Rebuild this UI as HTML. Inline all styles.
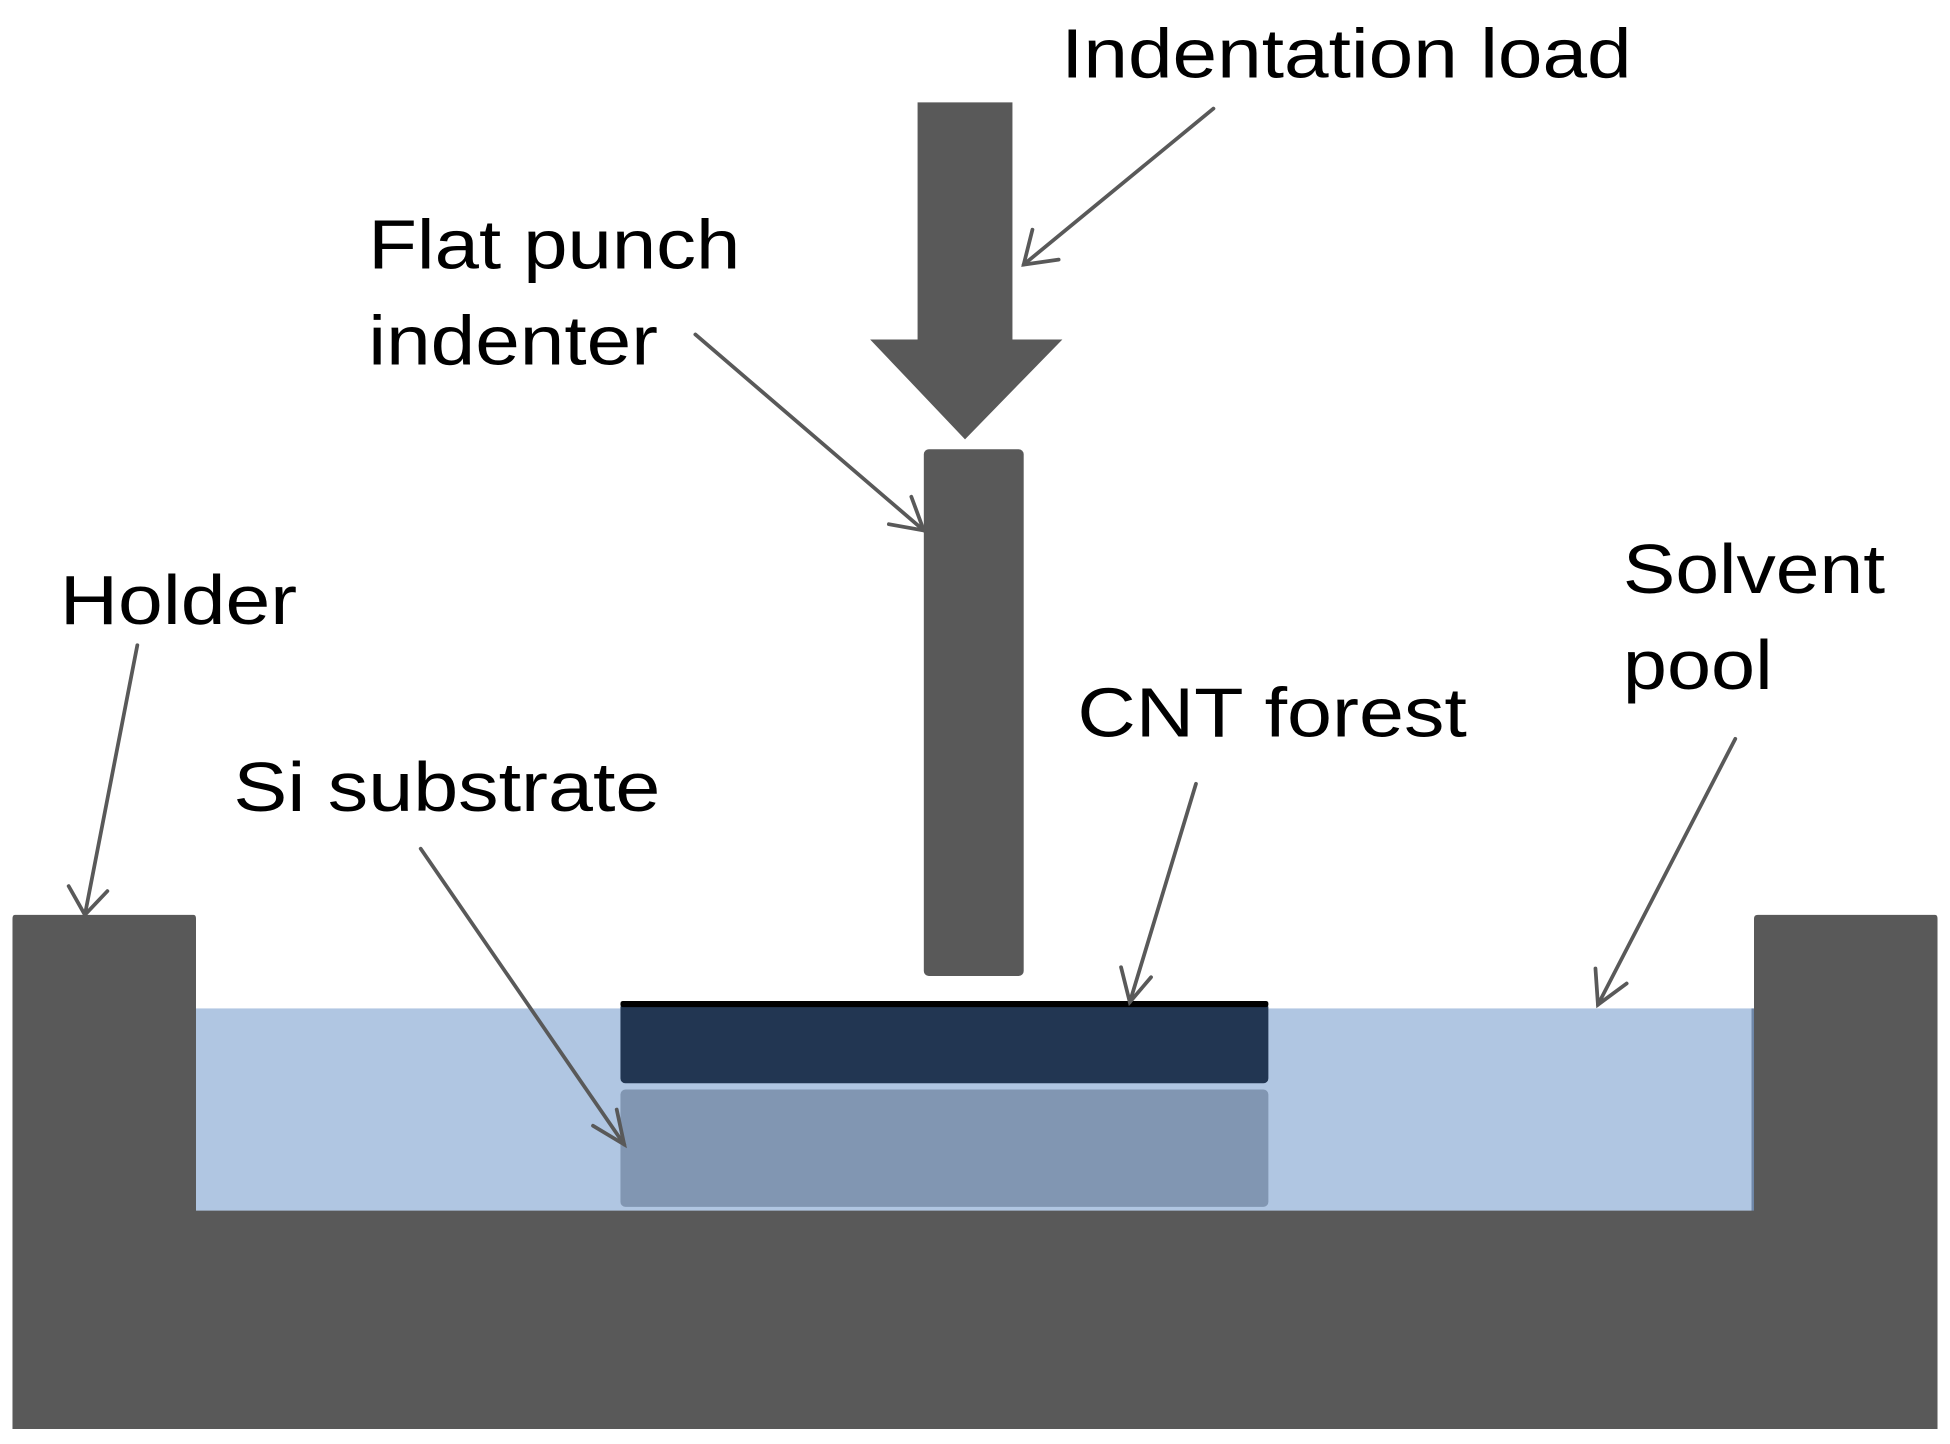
<!DOCTYPE html>
<html><head><meta charset="utf-8"><style>html,body{margin:0;padding:0;background:#fff;}svg{display:block;}</style></head>
<body>
<svg width="1950" height="1444" viewBox="0 0 1562 1157" preserveAspectRatio="none" xmlns="http://www.w3.org/2000/svg">
<rect x="0" y="0" width="1562" height="1157" fill="#fff"/>
<!-- liquid -->
<rect x="157" y="808" width="1250" height="164" fill="#b0c6e2"/>
<rect x="1403" y="808" width="4" height="164" fill="#6f87a8"/>
<!-- holder -->
<path d="M12 733 H155 Q157 733 157 736 V970 H1405 V736 Q1405 733 1408 733 H1550 Q1552 733 1552 736 V1145 H10 V736 Q10 733 12 733 Z" fill="#595959"/>
<!-- Si substrate -->
<rect x="497" y="873" width="519" height="94" rx="4" fill="#8196b2"/>
<!-- CNT forest -->
<rect x="497" y="803" width="519" height="65" rx="4" fill="#223652"/>
<rect x="497" y="802" width="519" height="5" rx="2" fill="#000"/>
<!-- punch -->
<rect x="740" y="360" width="80" height="422" rx="4" fill="#595959"/>
<!-- big arrow -->
<path d="M735 82 H811 V272 H851 L773 352 L697 272 H735 Z" fill="#595959"/>
<!-- leader lines -->
<g stroke="#595959" stroke-width="3" fill="none" stroke-linecap="round">
<line x1="972" y1="87" x2="820" y2="212"/><path d="M827 184 L820 212 L848 208"/>
<line x1="557" y1="268" x2="740" y2="425"/><path d="M730 398 L740 425 L712 420"/>
<line x1="110" y1="517" x2="68" y2="733"/><path d="M55 710 L68 733 L86 714"/>
<line x1="337" y1="680" x2="500" y2="917"/><path d="M494 889 L500 917 L475 902"/>
<line x1="958" y1="628" x2="905" y2="803"/><path d="M898 775 L905 803 L922 783"/>
<line x1="1390" y1="592" x2="1280" y2="805"/><path d="M1278 776 L1280 805 L1303 788"/>
</g>
<!-- labels -->
<g font-family="Liberation Sans, Arial, sans-serif" font-size="56" fill="#000">
<text x="850" y="62" textLength="457" lengthAdjust="spacingAndGlyphs">Indentation load</text>
<text x="295" y="215" textLength="298" lengthAdjust="spacingAndGlyphs">Flat punch</text>
<text x="295" y="292" textLength="232" lengthAdjust="spacingAndGlyphs">indenter</text>
<text x="48" y="500" textLength="190" lengthAdjust="spacingAndGlyphs">Holder</text>
<text x="1300" y="475" textLength="210" lengthAdjust="spacingAndGlyphs">Solvent</text>
<text x="1300" y="552" textLength="120" lengthAdjust="spacingAndGlyphs">pool</text>
<text x="863" y="590" textLength="312" lengthAdjust="spacingAndGlyphs">CNT forest</text>
<text x="187" y="650" textLength="342" lengthAdjust="spacingAndGlyphs">Si substrate</text>
</g>
</svg>
</body></html>
